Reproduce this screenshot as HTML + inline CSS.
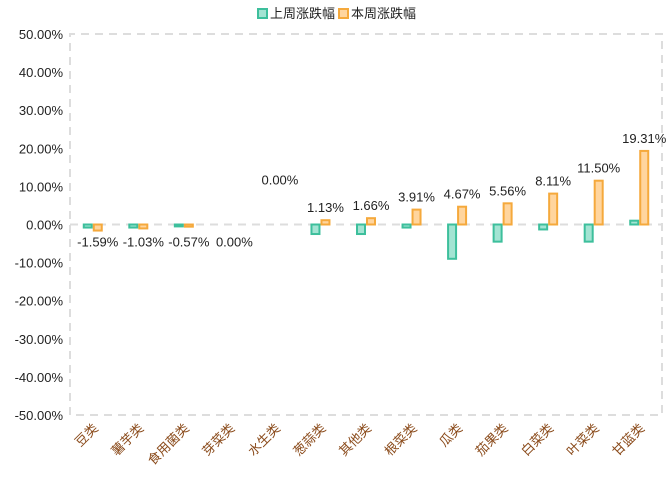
<!DOCTYPE html>
<html><head><meta charset="utf-8"><style>
body{margin:0;background:#fff}
svg text{font-family:"Liberation Sans","Noto Sans CJK SC",sans-serif}
</style></head><body>
<svg id="c" width="672" height="481"></svg>
<script>
const categories=["豆类","薯芋类","食用菌类","芽菜类","水生类","葱蒜类","其他类","根菜类","瓜类","茄果类","白菜类","叶菜类","甘蓝类"];
const lastWeek=[-0.8,-0.8,-0.5,0,0,-2.5,-2.5,-0.8,-9,-4.5,-1.3,-4.5,1.0];
const thisWeek=[-1.59,-1.03,-0.57,0,0,1.13,1.66,3.91,4.67,5.56,8.11,11.50,19.31];
const yTicks=[50,40,30,20,10,0,-10,-20,-30,-40,-50];
const svg=document.getElementById('c');const NS='http://www.w3.org/2000/svg';
const L=70,R=662,T=34,B=415;
const y=v=>T+(50-v)/100*(B-T);
const bw=(R-L)/categories.length;
const cx=i=>L+bw*(i+0.5);
function mk(t,a,p){const e=document.createElementNS(NS,t);for(const k in a)e.setAttribute(k,a[k]);(p||svg).appendChild(e);return e;}
const frame=mk('path',{d:`M${L},${B}V${T}H${R}V${B}H${L}`,fill:'none',stroke:'#ddd','stroke-width':2,'stroke-dasharray':'8,6'});

const zl=mk('line',{x1:L,x2:R,y1:y(0),y2:y(0),stroke:'#ddd','stroke-width':2,'stroke-dasharray':'8,6'});

yTicks.forEach(v=>{const t=mk('text',{x:L-7,y:y(v)+5,'text-anchor':'end','font-size':13,fill:'#222'});t.textContent=v.toFixed(2)+'%';
});
categories.forEach((c,i)=>{
 const g=lastWeek[i],o=thisWeek[i];
 if(g!==0){const r=mk('rect',{x:cx(i)-9,y:Math.min(y(g),y(0)),width:8,height:Math.abs(y(g)-y(0)),fill:'#a3e4d3',stroke:'#3dbf9c','stroke-width':2});
 }
 if(o!==0){const r=mk('rect',{x:cx(i)+1,y:Math.min(y(o),y(0)),width:8,height:Math.abs(y(o)-y(0)),fill:'#ffd59e',stroke:'#f5a93c','stroke-width':2});
 }
 const above=o>0||i===4;
 const ly=above?Math.min(y(o),y(0))-8:y(0)+22;
 const t=mk('text',{x:cx(i)+5,y:i===4?y(0)-40:ly,'text-anchor':'middle','font-size':13,fill:'#222'});t.textContent=o.toFixed(2)+'%';
 
 const xl=mk('text',{x:cx(i)+6,y:B+14,'text-anchor':'end','font-size':13,fill:'#8a4a1a',transform:`rotate(-45 ${cx(i)+6} ${B+14})`});xl.textContent=c;
 
});
const lg=mk('g',{});
const l1=mk('rect',{x:258,y:9,width:9,height:9,fill:'#a3e4d3',stroke:'#3dbf9c','stroke-width':2},lg);

const t1=mk('text',{x:270,y:18,'font-size':13,fill:'#222'},lg);t1.textContent='上周涨跌幅';

const l2=mk('rect',{x:339,y:9,width:9,height:9,fill:'#ffd59e',stroke:'#f5a93c','stroke-width':2},lg);

const t2=mk('text',{x:351,y:18,'font-size':13,fill:'#222'},lg);t2.textContent='本周涨跌幅';

</script></body></html>
